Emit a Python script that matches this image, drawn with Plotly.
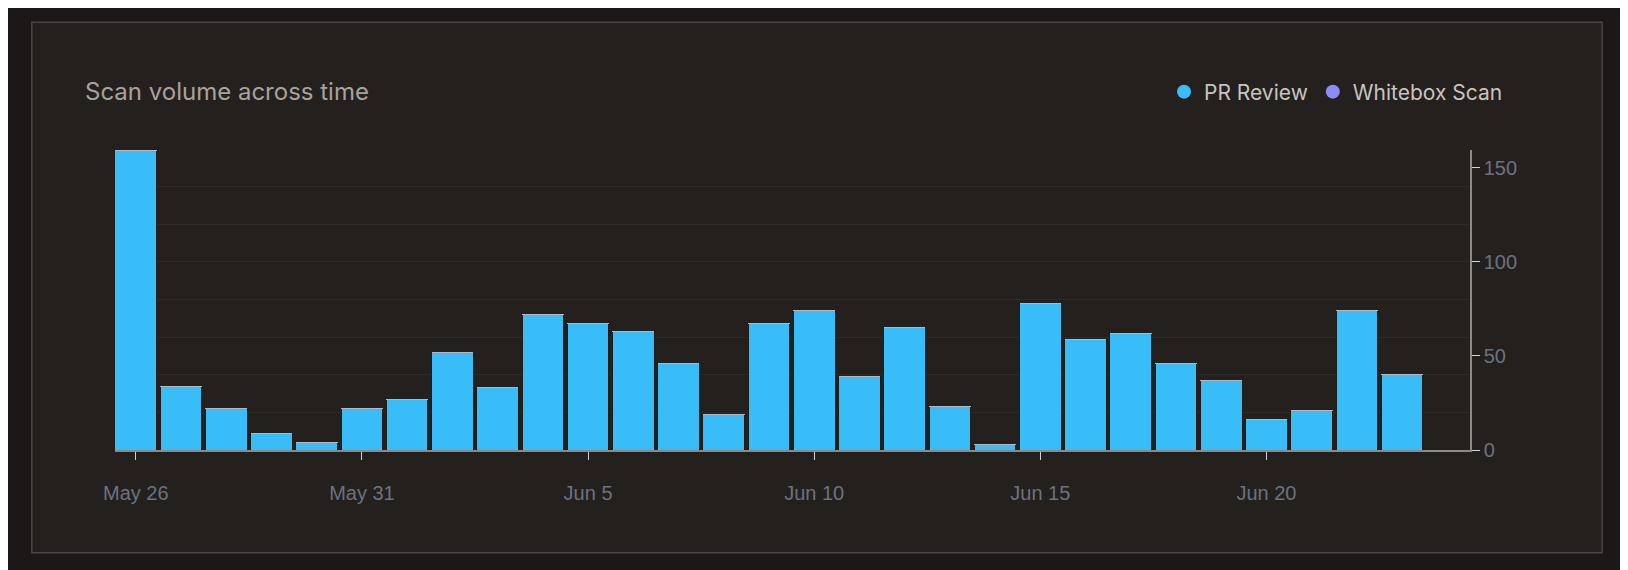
import plotly.graph_objects as go
import pandas as pd

dates = pd.date_range("2024-05-26", "2024-06-24", freq="D")
pr_review = [159, 34, 22, 9, 4, 22, 27, 52, 33, 72, 67, 63, 46, 19, 67, 74, 39, 65, 23, 3,
             78, 59, 62, 46, 37, 16, 21, 74, 40, 0]
whitebox = [0] * len(pr_review)
y_ticks = [0, 50, 100, 150]

fig = go.Figure()
fig.add_bar(x=dates, y=pr_review, marker=dict(color="#38bdf8", line=dict(color="#1f1b19", width=1)),
            showlegend=False, name="PR Review")
fig.add_bar(x=dates, y=whitebox, marker=dict(color="#8b8cf8"), showlegend=False, name="Whitebox Scan")
fig.add_scatter(x=[None], y=[None], mode="markers", name="PR Review",
                marker=dict(color="#38bdf8", size=14, symbol="circle"))
fig.add_scatter(x=[None], y=[None], mode="markers", name="Whitebox Scan", yaxis="y2",
                marker=dict(color="#8b8cf8", size=14, symbol="circle"))

tickfont = dict(family="Liberation Sans, Arial, sans-serif", size=20, color="#6b7280")
fig.update_layout(
    width=1628, height=570, barmode="stack", bargap=0.08,
    paper_bgcolor="#1c1817", plot_bgcolor="#24201e",
    margin=dict(l=107, r=166, t=142, b=128),
    font=dict(family="Inter, Noto Sans, sans-serif", color="#6b7280", size=18),
    title=dict(text="Scan volume across time", x=77/1628, y=1-84/570, xanchor="left", yanchor="middle",
               font=dict(size=24, color="#a8a29e")),
    legend=dict(orientation="h", traceorder="normal", xref="container", yref="container",
                x=1500/1628, xanchor="right", y=1-84/570, yanchor="middle",
                font=dict(size=21, color="#c8c4c0"), bgcolor="rgba(0,0,0,0)"),
    xaxis=dict(type="date", range=["2024-05-25 12:58", "2024-06-24 12:00"],
               tickvals=dates[::5], tickformat="%b %-d", ticks="outside", ticklen=8,
               tickcolor="#d4d4d4", showline=True, linecolor="#8a8a8a", linewidth=1.5,
               showgrid=False, zeroline=False, ticklabelstandoff=16, tickfont=tickfont),
    yaxis=dict(range=[0, 159.5], dtick=20, showgrid=True, gridcolor="#2e2a28",
               showticklabels=False, zeroline=False, side="right"),
    yaxis2=dict(range=[0, 159.5], overlaying="y", side="right", tickvals=y_ticks,
                ticks="outside", ticklen=8, tickcolor="#d4d4d4", showline=True,
                linecolor="#8a8a8a", linewidth=1.5, showgrid=False, zeroline=False,
                tickfont=tickfont),
    shapes=[dict(type="rect", xref="paper", yref="paper", x0=-0.0614, x1=1.0975,
                 y0=-0.3426, y1=1.4256, fillcolor="#24201e", line=dict(color="#4a4644", width=1.5),
                 layer="below")],
)
fig.write_html("out.html")
